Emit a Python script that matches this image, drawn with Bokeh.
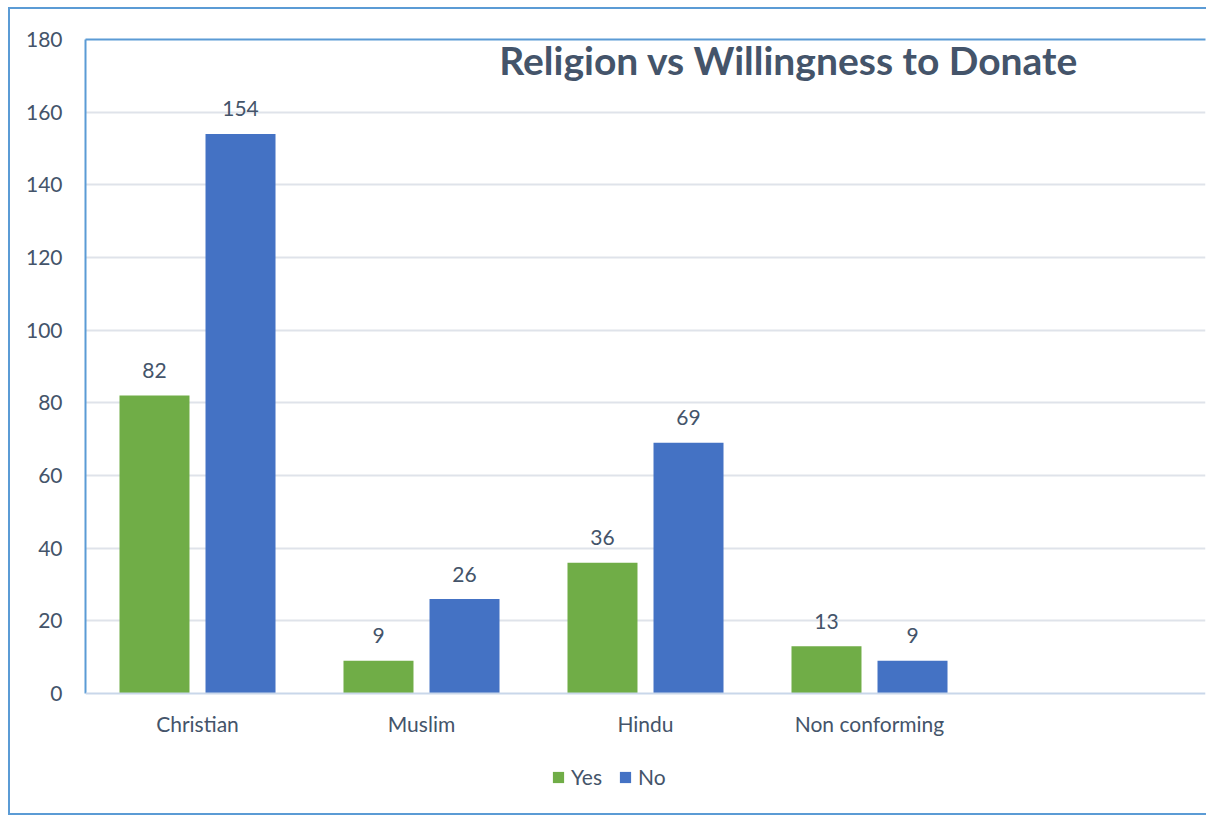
from bokeh.plotting import figure
from bokeh.models import Range1d, FixedTicker, LinearAxis, Legend, LegendItem, ColumnDataSource, Label, Span
from bokeh.core.properties import value
from bokeh.embed import file_html
from bokeh.resources import INLINE

categories = ["Christian", "Muslim", "Hindu", "Non conforming"]
yes_values = [82, 9, 36, 13]
no_values = [154, 26, 69, 9]
y_ticks = [0, 20, 40, 60, 80, 100, 120, 140, 160, 180]
title_text = "Religion vs Willingness to Donate"

TXT = "#44546a"
BLUE_LINE = "#5b9bd5"
GREEN = "#70ad47"
BLUE = "#4472c4"
FONT = "Lato"

n_slots = len(categories) + 1
centers = [i + 0.5 for i in range(len(categories))]
off = 0.192
bw = 0.3125

# plot area: 0..180 occupies 654 px; extra 120 px below zero for category labels and legend
Y_MAX = 180
px_per_unit = 654 / Y_MAX
y_min = -120 / px_per_unit

p = figure(frame_width=1120, frame_height=774,
           x_range=Range1d(0, n_slots), y_range=Range1d(y_min, Y_MAX),
           output_backend="svg", toolbar_location=None,
           min_border_left=75, min_border_top=30, min_border_bottom=0, min_border_right=4,
           x_axis_location=None, y_axis_location=None)
p.styles = {"margin-left": "8px", "margin-top": "7px",
            "border-top": f"2px solid {BLUE_LINE}",
            "border-left": f"2px solid {BLUE_LINE}",
            "border-bottom": f"2px solid {BLUE_LINE}",
            "border-right": "none"}
p.outline_line_color = None
p.background_fill_color = "white"
p.border_fill_color = "white"

# y axis (line limited to 0..180)
yax = LinearAxis(ticker=FixedTicker(ticks=y_ticks), bounds=(0, Y_MAX))
yax.axis_line_color = BLUE_LINE
yax.axis_line_width = 2
yax.major_tick_line_color = None
yax.minor_tick_line_color = None
yax.major_label_text_font = FONT
yax.major_label_text_font_size = "21px"
yax.major_label_text_color = TXT
yax.major_label_standoff = 17
p.add_layout(yax, "left")

# top border of plot area
topax = LinearAxis(ticker=FixedTicker(ticks=[]))
topax.axis_line_color = BLUE_LINE
topax.axis_line_width = 2
topax.major_tick_line_color = None
topax.minor_tick_line_color = None
topax.major_label_text_font_size = "0px"
p.add_layout(topax, "above")

p.xgrid.grid_line_color = None
p.ygrid.ticker = FixedTicker(ticks=y_ticks[1:-1])
p.ygrid.grid_line_color = "#dfe3ea"
p.ygrid.grid_line_width = 2

# category axis line at zero
p.add_layout(Span(location=0, dimension="width", line_color="#c9d7ea", line_width=2))

src = ColumnDataSource(dict(
    xy=[c - off for c in centers], xn=[c + off for c in centers],
    yes=yes_values, no=no_values,
    yes_t=[str(v) for v in yes_values], no_t=[str(v) for v in no_values]))

r_yes = p.vbar(x="xy", top="yes", bottom=0, width=bw, source=src, fill_color=GREEN, line_color=None)
r_no = p.vbar(x="xn", top="no", bottom=0, width=bw, source=src, fill_color=BLUE, line_color=None)

for xcol, ycol, tcol in (("xy", "yes", "yes_t"), ("xn", "no", "no_t")):
    p.text(x=xcol, y=ycol, text=tcol, source=src, text_align="center", text_baseline="middle",
           y_offset=-25, text_font=value(FONT), text_font_size="21px", text_color=TXT)

# category labels
cat_src = ColumnDataSource(dict(x=centers, y=[0] * len(centers), t=categories))
p.text(x="x", y="y", text="t", source=cat_src, text_align="center", text_baseline="middle",
       y_offset=30, text_font=value(FONT), text_font_size="21px", text_color=TXT)

title = Label(x=3.14, y=174.3, text=title_text, text_align="center", text_baseline="middle",
              text_font=FONT, text_font_size="39px", text_font_style="bold", text_color=TXT)
p.add_layout(title)

legend = Legend(items=[LegendItem(label="Yes", renderers=[r_yes]), LegendItem(label="No", renderers=[r_no])],
                orientation="horizontal", location=(466, 24), padding=0, margin=0, spacing=16,
                glyph_width=14, glyph_height=14, label_standoff=6,
                label_text_font=FONT, label_text_font_size="21px", label_text_color=TXT,
                border_line_color=None, background_fill_alpha=0)
p.add_layout(legend, "center")

open("out.html", "w").write(file_html(p, INLINE))
